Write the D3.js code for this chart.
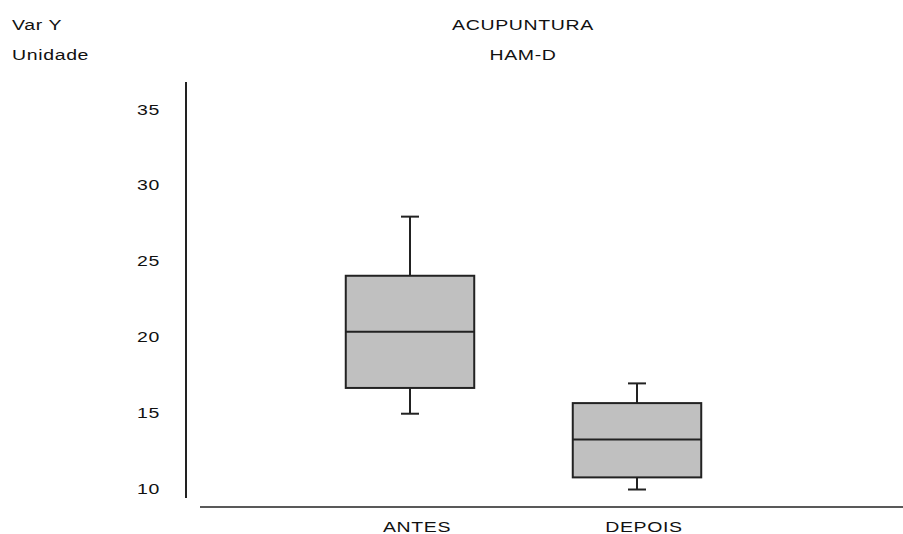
<!DOCTYPE html>
<html>
<head>
<meta charset="utf-8">
<script src="https://cdn.jsdelivr.net/npm/d3@7/dist/d3.min.js"></script>
<style>
  html, body { margin: 0; padding: 0; background: #fff; }
  svg { display: block; }
  text { font-family: "Liberation Sans", Arial, sans-serif; font-size: 15px; fill: #111; }
</style>
</head>
<body>
<svg id="chart" width="903" height="534"></svg>
<script>
// HAM-D scores before and after acupuncture
const categories = ["ANTES", "DEPOIS"];
const whiskerLow  = [14.9, 9.9];
const quartile1   = [16.6, 10.7];
const medians     = [20.3, 13.2];
const quartile3   = [24.0, 15.6];
const whiskerHigh = [27.9, 16.9];
const yTicks = [10, 15, 20, 25, 30, 35];
const titleLines = ["ACUPUNTURA", "HAM-D"];
const axisLabelLines = ["Var Y", "Unidade"];

const svg = d3.select("#chart");
const W = 903, H = 534;

const y = d3.scaleLinear().domain([10, 35]).range([488, 109]);
const x = d3.scaleBand().domain(categories).range([296.5, 750.5]).padding(0);

const stroke = "#222";
const textScale = 1.3;

// wide lettering, as in the original report style
function wideText(g, tx, ty, str, anchor) {
  return g.append("text")
    .attr("transform", `translate(${tx},${ty}) scale(${textScale},1)`)
    .attr("text-anchor", anchor)
    .attr("letter-spacing", "0.5px")
    .text(str);
}

// header: variable label on the left, title in the centre
axisLabelLines.forEach((s, i) => wideText(svg, 12, 30 + i * 30, s, "start"));
titleLines.forEach((s, i) => wideText(svg, 523, 30 + i * 30, s, "middle"));

// y axis line and tick labels (no tick marks)
svg.append("line")
  .attr("x1", 186).attr("x2", 186)
  .attr("y1", 82).attr("y2", 498)
  .attr("stroke", stroke).attr("stroke-width", 2);

yTicks.forEach(t => wideText(svg, 160, y(t) + 5.5, String(t), "end"));

// baseline
svg.append("line")
  .attr("x1", 200).attr("x2", W)
  .attr("y1", 507).attr("y2", 507)
  .attr("stroke", stroke).attr("stroke-width", 1.5);

// category labels
categories.forEach(c => wideText(svg, x(c) + x.bandwidth() / 2 + 7, 532, c, "middle"));

// boxes
const boxW = x.bandwidth() * 0.566;
const capW = 18;
const data = categories.map((c, i) => ({
  c, lo: whiskerLow[i], q1: quartile1[i], med: medians[i], q3: quartile3[i], hi: whiskerHigh[i]
}));

const g = svg.append("g").selectAll("g").data(data).join("g")
  .attr("transform", d => `translate(${x(d.c) + x.bandwidth() / 2},0)`);

// whiskers
g.append("line").attr("x1", 0).attr("x2", 0)
  .attr("y1", d => y(d.hi)).attr("y2", d => y(d.q3))
  .attr("stroke", stroke).attr("stroke-width", 2);
g.append("line").attr("x1", 0).attr("x2", 0)
  .attr("y1", d => y(d.q1)).attr("y2", d => y(d.lo))
  .attr("stroke", stroke).attr("stroke-width", 2);
g.append("line").attr("x1", -capW / 2).attr("x2", capW / 2)
  .attr("y1", d => y(d.hi)).attr("y2", d => y(d.hi))
  .attr("stroke", stroke).attr("stroke-width", 2);
g.append("line").attr("x1", -capW / 2).attr("x2", capW / 2)
  .attr("y1", d => y(d.lo)).attr("y2", d => y(d.lo))
  .attr("stroke", stroke).attr("stroke-width", 2);

// interquartile box
g.append("rect")
  .attr("x", -boxW / 2).attr("width", boxW)
  .attr("y", d => y(d.q3)).attr("height", d => y(d.q1) - y(d.q3))
  .attr("fill", "#c0c0c0").attr("stroke", stroke).attr("stroke-width", 2);

// median
g.append("line").attr("x1", -boxW / 2).attr("x2", boxW / 2)
  .attr("y1", d => y(d.med)).attr("y2", d => y(d.med))
  .attr("stroke", stroke).attr("stroke-width", 2);
</script>
</body>
</html>
